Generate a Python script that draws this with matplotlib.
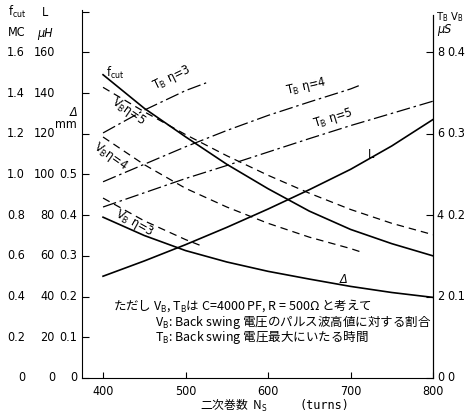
import matplotlib.pyplot as plt
from matplotlib import font_manager
from matplotlib.transforms import blended_transform_factory

installed = {f.name for f in font_manager.fontManager.ttflist}
narrow = 'Liberation Sans Narrow' if 'Liberation Sans Narrow' in installed else 'DejaVu Sans'
plt.rcParams['font.family'] = [narrow, 'DejaVu Sans', 'Noto Sans CJK JP']
plt.rcParams['font.stretch'] = 'condensed'
plt.rcParams['mathtext.fontset'] = 'custom'
plt.rcParams['mathtext.rm'] = narrow
plt.rcParams['mathtext.it'] = narrow + ':italic'

# secondary winding turns
ns = [400, 450, 500, 550, 600, 650, 700, 750, 800]
fcut_mc = [1.49, 1.325, 1.185, 1.05, 0.93, 0.82, 0.73, 0.66, 0.60]
L_uh = [50, 57.5, 65.5, 74, 83, 92.5, 102.5, 114, 127]
delta_mm = [0.395, 0.35, 0.313, 0.285, 0.262, 0.243, 0.225, 0.21, 0.198]

# V_B (ratio) for eta = 5, 4, 3
vb5 = [0.357, 0.327, 0.299, 0.273, 0.249, 0.227, 0.207, 0.19, 0.176]
ns_vb4 = [400, 450, 500, 550, 600, 650, 700, 712]
vb4 = [0.296, 0.262, 0.233, 0.21, 0.19, 0.173, 0.159, 0.155]
ns_vb3 = [400, 450, 500, 520]
vb3 = [0.221, 0.193, 0.170, 0.162]

# T_B (us) for eta = 3, 4, 5
ns_tb3 = [400, 450, 500, 525]
tb3 = [6.02, 6.58, 7.06, 7.25]
ns_tb4 = [400, 450, 500, 550, 600, 650, 700, 710]
tb4 = [4.82, 5.25, 5.68, 6.08, 6.45, 6.78, 7.1, 7.18]
tb5 = [4.2, 4.55, 4.9, 5.22, 5.55, 5.88, 6.2, 6.5, 6.8]

left_rows = [0, 0.2, 0.4, 0.6, 0.8, 1.0, 1.2, 1.4, 1.6]
fcut_labels = ['0', '0.2', '0.4', '0.6', '0.8', '1.0', '1.2', '1.4', '1.6']
L_labels = ['0', '20', '40', '60', '80', '100', '120', '140', '160']
delta_labels = ['0', '0.1', '0.2', '0.3', '0.4', '0.5']
tb_labels = ['0', '2', '4', '6', '8']
vb_labels = ['0', '0.1', '0.2', '0.3', '0.4']

# everything is drawn on the f_cut scale
fig = plt.figure(figsize=(4.67, 4.15), dpi=100)
ax = fig.add_axes([0.1756, 0.0892, 0.7516, 0.8867])
ax.set_xlim(374.5, 800)
ax.set_ylim(0, 1.808)

k = 'black'
solid = dict(color=k, lw=1.2)
dash = dict(color=k, lw=0.9, dashes=(6, 4))
dashdot = dict(color=k, lw=0.9, dashes=(11, 3, 2, 3))

ax.plot(ns, fcut_mc, **solid)
ax.plot(ns, [v / 100 for v in L_uh], **solid)
ax.plot(ns, [v * 2 for v in delta_mm], **solid)
ax.plot(ns, [v * 4 for v in vb5], **dash)
ax.plot(ns_vb4, [v * 4 for v in vb4], **dash)
ax.plot(ns_vb3, [v * 4 for v in vb3], **dash)
ax.plot(ns_tb3, [v / 5 for v in tb3], **dashdot)
ax.plot(ns_tb4, [v / 5 for v in tb4], **dashdot)
ax.plot(ns, [v / 5 for v in tb5], **dashdot)

fs = 9
ax.text(404, 1.50, r'f$_\mathrm{cut}$', fontsize=fs, va='center')
ax.text(484, 1.475, r'T$_\mathrm{B}$ η=3', fontsize=fs, rotation=26, ha='center', va='center')
ax.text(431, 1.31, r'V$_\mathrm{B}$η=5', fontsize=fs, rotation=-35, ha='center', va='center')
ax.text(409, 1.09, r'V$_\mathrm{B}$η=4', fontsize=fs, rotation=-35, ha='center', va='center')
ax.text(646, 1.43, r'T$_\mathrm{B}$ η=4', fontsize=fs, rotation=13, ha='center', va='center')
ax.text(679, 1.278, r'T$_\mathrm{B}$ η=5', fontsize=fs, rotation=17, ha='center', va='center')
ax.text(438, 0.762, r'V$_\mathrm{B}$ η=3', fontsize=fs, rotation=-29, ha='center', va='center')
ax.text(725, 1.096, 'L', fontsize=fs, ha='center', va='center')
ax.text(691, 0.482, 'Δ', fontsize=fs, style='italic', ha='center', va='center')

jp = dict(fontsize=9, family='Noto Sans CJK JP', va='center')
ax.text(412, 0.354, r'ただし V$_\mathrm{B}$, T$_\mathrm{B}$は C=4000 PF, R = 500Ω と考えて', **jp)
ax.text(463, 0.275, r'V$_\mathrm{B}$: Back swing 電圧のパルス波高値に対する割合', **jp)
ax.text(463, 0.197, r'T$_\mathrm{B}$: Back swing 電圧最大にいたる時間', **jp)

# axes frame and ticks
ax.spines['top'].set_visible(False)
ax.spines['right'].set_bounds(0, 1.784)
ax.set_xticks([400, 500, 600, 700, 800])
ax.set_yticks([0, 0.2, 0.4, 0.6, 0.8, 1.0, 1.2, 1.4, 1.6, 1.8])
ax.set_yticklabels([])
ax.tick_params(axis='x', direction='in', length=4, width=0.8, labelsize=fs, pad=5)
ax.tick_params(axis='y', direction='in', length=5, width=0.8)
ax2 = ax.twinx()
ax2.set_ylim(ax.get_ylim())
ax2.set_yticks([0, 0.4, 0.8, 1.2, 1.6])
ax2.set_yticklabels([])
ax2.tick_params(direction='in', length=5, width=0.8)
for s in ['top', 'left', 'bottom']:
    ax2.spines[s].set_visible(False)
ax2.spines['right'].set_bounds(0, 1.784)

tr = blended_transform_factory(ax.transAxes, ax.transData)
for y, lab in zip(left_rows, fcut_labels):
    ax.text(-0.162, y, lab, transform=tr, fontsize=fs, ha='right', va='center')
for y, lab in zip(left_rows, L_labels):
    ax.text(-0.077, y, lab, transform=tr, fontsize=fs, ha='right', va='center')
for y, lab in zip(left_rows, delta_labels):
    ax.text(-0.014, y, lab, transform=tr, fontsize=fs, ha='right', va='center')
for i, lab in enumerate(tb_labels):
    ax.text(1.011, i * 0.4, lab, transform=tr, fontsize=fs, ha='left', va='center')
for i, lab in enumerate(vb_labels):
    ax.text(1.04, i * 0.4, lab, transform=tr, fontsize=fs, ha='left', va='center')

# column headers
fig.text(8 / 467, 1 - 12 / 415, r'f$_\mathrm{cut}$', fontsize=fs, va='center')
fig.text(42 / 467, 1 - 12 / 415, 'L', fontsize=fs, va='center')
fig.text(8 / 467, 1 - 33 / 415, 'MC', fontsize=fs, va='center')
fig.text(37 / 467, 1 - 33 / 415, 'μH', fontsize=fs, style='italic', va='center')
fig.text(77 / 467, 1 - 113 / 415, 'Δ', fontsize=fs, style='italic', ha='right', va='center')
fig.text(77 / 467, 1 - 125 / 415, 'mm', fontsize=fs, ha='right', va='center')
fig.text(436 / 467, 1 - 17 / 415, r'T$_\mathrm{B}$ V$_\mathrm{B}$', fontsize=8, va='center')
fig.text(437 / 467, 1 - 30 / 415, 'μS', fontsize=fs, style='italic', va='center')

fig.text(200 / 467, 1 - 405 / 415, r'二次巻数  N$_\mathrm{S}$', fontsize=8.5,
         family='Noto Sans CJK JP', va='center')
fig.text(300 / 467, 1 - 405 / 415, '(turns)', fontsize=8.5, family='DejaVu Sans Mono', va='center')

fig.savefig('out.png', dpi=100, facecolor='white')
